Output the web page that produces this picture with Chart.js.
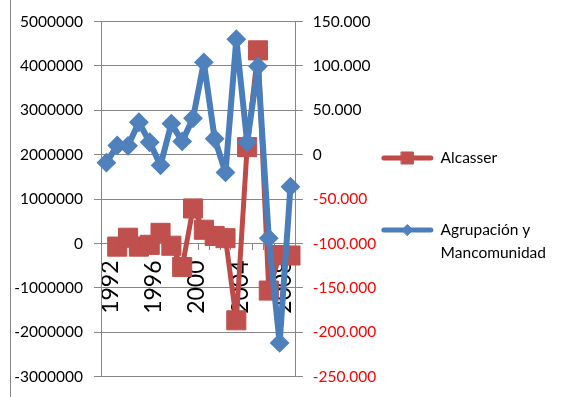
<!DOCTYPE html>
<html>
<head>
<meta charset="utf-8">
<script src="https://cdn.jsdelivr.net/npm/chart.js@4/dist/chart.umd.min.js"></script>
<style>
  html, body { margin: 0; padding: 0; background: #fff; }
  #wrap { position: relative; width: 566px; height: 397px; }
  #frame { position: absolute; left: 10px; top: 0; width: 0; height: 397px; border-left: 1px solid #868686; pointer-events: none; }
  canvas { display: block; }
</style>
</head>
<body>
<div id="wrap">
  <canvas id="chart" width="566" height="397"></canvas>
  <div id="frame"></div>
</div>
<script>
// Years on the category axis
const years = ['1992', '1993', '1994', '1995', '1996', '1997', '1998', '1999', '2000',
               '2001', '2002', '2003', '2004', '2005', '2006', '2007', '2008', '2009'];

// Alcasser (left axis)
const alcasser = [null, -70000, 130000, -70000, -30000, 240000, -50000, -530000, 790000,
                  310000, 170000, 120000, -1730000, 2170000, 4350000, -1060000, -260000, -270000];

// Agrupación y Mancomunidad (right axis)
const agrupacion = [-9000, 10500, 10000, 36500, 14000, -12000, 35000, 15000, 41000,
                    104000, 18000, -20000, 130000, 14000, 99500, -94000, -212000, -36000];

// Axis ranges: [min, max, step]
const leftAxis = [-3000000, 5000000, 1000000];
const rightAxis = [-250000, 150000, 50000];

// Legend texts
const seriesNames = ['Alcasser', ['Agrupación y', 'Mancomunidad']];

const FONT = 'Lato, "Open Sans", "DejaVu Sans", sans-serif';
const GRID = '#868686';
const RED_LINE = '#BE4B48', RED_MARK = '#C0504D';
const BLUE_LINE = '#4A7EBB', BLUE_MARK = '#4F81BD';

function dotThousands(v) {
  const s = Math.abs(v).toString().replace(/\B(?=(\d{3})+(?!\d))/g, '.');
  return (v < 0 ? '-' : '') + s;
}

const LEGEND_ITEM_H = 72;

// Draws a line sample with its marker in each legend slot
const legendSamples = {
  id: 'legendSamples',
  afterDraw(chart) {
    const lg = chart.legend;
    if (!lg || !lg.legendHitBoxes) return;
    const ctx = chart.ctx;
    const bw = lg.options.labels.boxWidth;
    lg.legendItems.forEach((item, i) => {
      const hb = lg.legendHitBoxes[i];
      const ds = chart.data.datasets[item.datasetIndex];
      const y = hb.top + LEGEND_ITEM_H / 2;
      ctx.save();
      ctx.strokeStyle = ds.borderColor;
      ctx.lineWidth = 5;
      ctx.lineCap = 'round';
      ctx.beginPath();
      ctx.moveTo(hb.left + 2, y);
      ctx.lineTo(hb.left + bw - 2, y);
      ctx.stroke();
      ctx.fillStyle = ds.pointBackgroundColor;
      ctx.strokeStyle = ds.pointBorderColor;
      ctx.lineWidth = 1;
      Chart.helpers.drawPoint(ctx, {
        pointStyle: ds.pointStyle,
        radius: ds.pointStyle === 'rect' ? 8.5 : 5.5,
        rotation: 0,
        borderWidth: 1
      }, hb.left + bw / 2, y);
      ctx.restore();
    });
  }
};

new Chart(document.getElementById('chart'), {
  type: 'line',
  data: {
    labels: years,
    datasets: [
      {
        label: 'Alcasser',
        data: alcasser,
        yAxisID: 'y',
        order: 1,
        borderColor: RED_LINE,
        borderWidth: 5,
        borderJoinStyle: 'round',
        pointStyle: 'rect',
        pointRadius: 13.5,
        pointBackgroundColor: RED_MARK,
        pointBorderColor: RED_MARK,
        pointBorderWidth: 1,
        tension: 0
      },
      {
        label: 'Agrupación y Mancomunidad',
        data: agrupacion,
        yAxisID: 'y2',
        order: 0,
        borderColor: BLUE_LINE,
        borderWidth: 6,
        borderJoinStyle: 'round',
        pointStyle: 'rectRot',
        pointRadius: 8.5,
        pointBackgroundColor: BLUE_MARK,
        pointBorderColor: BLUE_MARK,
        pointBorderWidth: 2,
        tension: 0
      }
    ]
  },
  options: {
    responsive: false,
    animation: false,
    devicePixelRatio: 1,
    layout: { padding: { top: 21.5, bottom: 16.5, left: 0, right: 10 } },
    plugins: {
      tooltip: { enabled: false },
      legend: {
        position: 'right',
        align: 'start',
        maxWidth: 260,
        title: { display: true, text: '', font: { size: 10, lineHeight: 1 }, padding: { top: 90.5, bottom: 0 } },
        labels: {
          boxWidth: 51,
          boxHeight: LEGEND_ITEM_H,
          padding: 0,
          color: '#000',
          font: { family: FONT, size: 15.5, lineHeight: 1.5 },
          sort: (a, b) => a.datasetIndex - b.datasetIndex,
          generateLabels(chart) {
            const items = Chart.defaults.plugins.legend.labels.generateLabels(chart);
            return items.map(it => Object.assign(it, {
              text: seriesNames[it.datasetIndex],
              fillStyle: 'rgba(0,0,0,0)',
              strokeStyle: 'rgba(0,0,0,0)',
              lineWidth: 0
            }));
          }
        }
      }
    },
    scales: {
      x: {
        type: 'category',
        position: { y: 0 },
        offset: true,
        grid: { offset: true, drawOnChartArea: false, drawTicks: true, tickLength: 6, color: GRID },
        border: { color: GRID, width: 1 },
        ticks: {
          autoSkip: false,
          minRotation: 90,
          maxRotation: 90,
          padding: 11,
          labelOffset: 4,
          color: '#000',
          font: { family: FONT, size: 23 },
          callback(value, index) { return index % 4 === 0 ? this.getLabelForValue(value) : ''; }
        },
        afterFit(scale) { scale.height = 0; }
      },
      y: {
        position: 'left',
        min: leftAxis[0],
        max: leftAxis[1],
        ticks: {
          stepSize: leftAxis[2],
          padding: 11,
          color: '#000',
          font: { family: FONT, size: 15.5 },
          callback: (v) => String(v)
        },
        grid: { color: GRID, tickLength: 7 },
        border: { color: GRID, width: 1 },
        afterFit(scale) { scale.width = 101; }
      },
      y2: {
        position: 'right',
        min: rightAxis[0],
        max: rightAxis[1],
        ticks: {
          stepSize: rightAxis[2],
          padding: 10,
          font: { family: FONT, size: 15.5 },
          color: (c) => (c.tick && c.tick.value < 0 ? '#FF0000' : '#000'),
          callback: (v) => dotThousands(v)
        },
        grid: { drawOnChartArea: false, color: GRID, tickLength: 7 },
        border: { color: GRID, width: 1 },
        afterFit(scale) { scale.width = 86; }
      }
    }
  },
  plugins: [legendSamples]
});
</script>
</body>
</html>
